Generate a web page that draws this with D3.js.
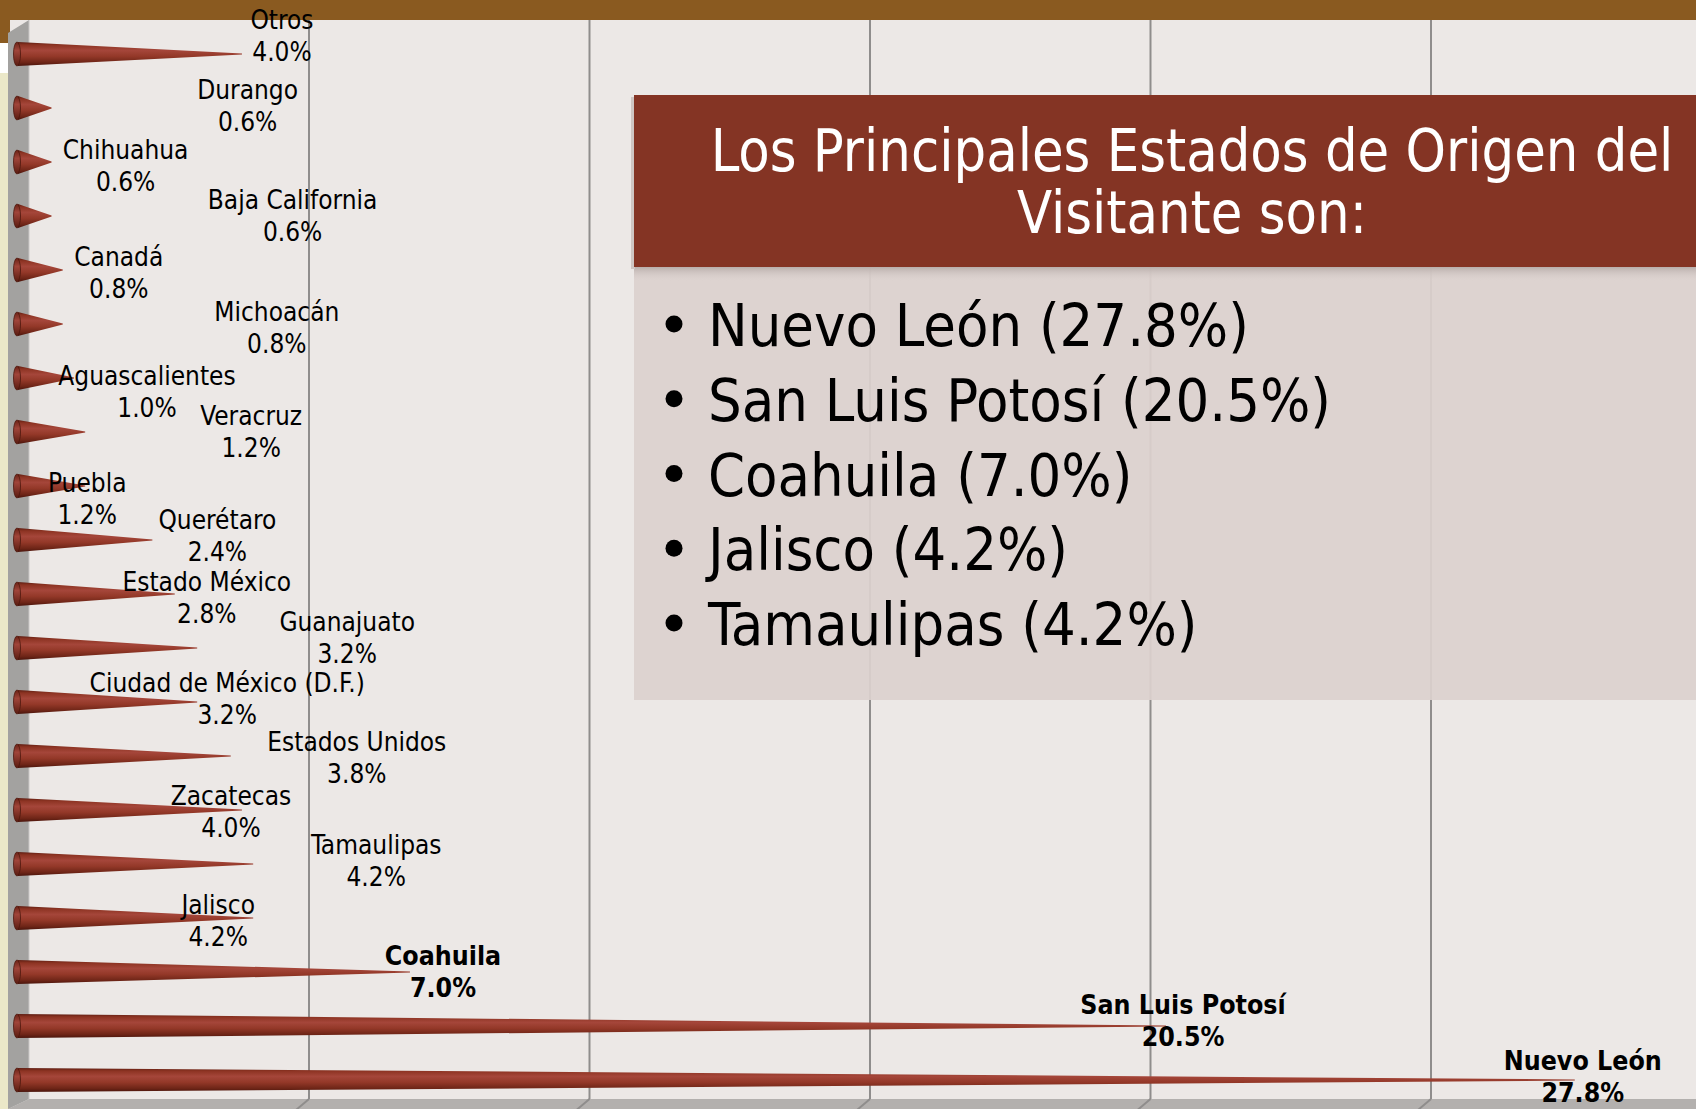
<!DOCTYPE html>
<html>
<head>
<meta charset="utf-8">
<script src="https://cdn.jsdelivr.net/npm/d3@7"></script>
<style>
  html, body { margin: 0; padding: 0; background: #ece8e6; }
  svg { display: block; }
</style>
</head>
<body>
<svg id="chart" width="1696" height="1109"></svg>
<script>
// ---------- data ----------
const categories = ["Otros", "Durango", "Chihuahua", "Baja California", "Canadá", "Michoacán",
  "Aguascalientes", "Veracruz", "Puebla", "Querétaro", "Estado México", "Guanajuato",
  "Ciudad de México (D.F.)", "Estados Unidos", "Zacatecas", "Tamaulipas", "Jalisco",
  "Coahuila", "San Luis Potosí", "Nuevo León"];
const values = [4.0, 0.6, 0.6, 0.6, 0.8, 0.8, 1.0, 1.2, 1.2, 2.4, 2.8, 3.2, 3.2, 3.8, 4.0, 4.2, 4.2, 7.0, 20.5, 27.8];
const highlighted = ["Coahuila", "San Luis Potosí", "Nuevo León"];
const topStates = ["Nuevo León", "San Luis Potosí", "Coahuila", "Jalisco", "Tamaulipas"];
const gridTicks = [0, 5, 10, 15, 20, 25, 30];
const titleLines = ["Los Principales Estados de Origen del", "Visitante son:"];

// ---------- layout (label placement relative to cone tip / row centre) ----------
const labelOffsets = [[40,-18],[196,-2],[74,4],[241,0],[56,3],[214,4],[73,14],[166,0],[2,13],[65,-4],
  [32,4],[150,-10],[30,-3],[126,2],[-11,2],[123,-3],[-35,3],[33,-1],[17,-6],[8,-4]];

const W = 1696, H = 1109;
const floorY = 1099, wallTop = 20, wallX0 = 8, wallX1 = 29;
const svg = d3.select("#chart");
const defs = svg.append("defs");

const xFront = d3.scaleLinear().domain([0, 30]).range([18, 18 + 1680]);
const xBack = d3.scaleLinear().domain([0, 30]).range([28.5, 28.5 + 1683]);
const y = d3.scaleBand().domain(categories).range([27, 27 + 54 * categories.length]).padding(0);
const fmt = d3.format(".1f");

// gradients
const coneGrad = defs.append("linearGradient").attr("id", "cone").attr("x1", 0).attr("y1", 0).attr("x2", 0).attr("y2", 1);
[[0, "#5e1d12"], [0.12, "#8c3322"], [0.35, "#a5463a"], [0.6, "#933828"], [0.85, "#6e2517"], [1, "#4a150c"]]
  .forEach(([o, c]) => coneGrad.append("stop").attr("offset", o).attr("stop-color", c));
const capGrad = defs.append("linearGradient").attr("id", "cap").attr("x1", 0).attr("y1", 0).attr("x2", 0).attr("y2", 1);
[[0, "#6a2216"], [0.35, "#a0453a"], [1, "#5a1c10"]]
  .forEach(([o, c]) => capGrad.append("stop").attr("offset", o).attr("stop-color", c));
const shadowGrad = defs.append("linearGradient").attr("id", "shadow").attr("x1", 0).attr("y1", 0).attr("x2", 0).attr("y2", 1);
shadowGrad.append("stop").attr("offset", 0).attr("stop-color", "#b9aeab");
shadowGrad.append("stop").attr("offset", 1).attr("stop-color", "#dbd1ce").attr("stop-opacity", 0);

// background pieces
svg.append("rect").attr("x", 0).attr("y", 0).attr("width", W).attr("height", H).attr("fill", "#ece8e6");
svg.append("rect").attr("x", 0).attr("y", 73).attr("width", wallX0 + 2).attr("height", H - 73).attr("fill", "#ebe8c8");
svg.append("rect").attr("x", 0).attr("y", 43).attr("width", wallX0 + 2).attr("height", 30).attr("fill", "#ffffff");
svg.append("rect").attr("x", 0).attr("y", 0).attr("width", W).attr("height", wallTop).attr("fill", "#8a5a20");
svg.append("rect").attr("x", 0).attr("y", 0).attr("width", wallX0 + 2).attr("height", 43).attr("fill", "#8a5a20");

// back wall gridlines
const grid = svg.append("g");
grid.selectAll("line").data(gridTicks.filter(t => t > 0)).join("line")
  .attr("x1", d => xBack(d)).attr("x2", d => xBack(d))
  .attr("y1", wallTop).attr("y2", floorY)
  .attr("stroke", "#8f8d8c").attr("stroke-width", 2);

// floor
svg.append("path")
  .attr("d", `M${wallX1},${floorY} L${W},${floorY} L${W},${H} L${wallX0},${H} Z`)
  .attr("fill", "#b3b0ae");
svg.append("g").selectAll("line").data(gridTicks.filter(t => t > 0)).join("line")
  .attr("x1", d => xBack(d)).attr("x2", d => xBack(d) - 13)
  .attr("y1", floorY).attr("y2", H + 1)
  .attr("stroke", "#8f8d8c").attr("stroke-width", 2);

// side wall
svg.append("path")
  .attr("d", `M${wallX0},${wallTop + 13} L${wallX1},${wallTop} L${wallX1},${floorY} L${wallX0},${H} Z`)
  .attr("fill", "#a3a2a0");
svg.append("line").attr("x1", wallX1).attr("x2", wallX1).attr("y1", wallTop).attr("y2", floorY)
  .attr("stroke", "#c9c7c6").attr("stroke-width", 1);

// cones
const cones = svg.append("g");
const rows = categories.map((c, i) => ({ c, v: values[i], i }));
const r = 12;
cones.selectAll("path.cone").data(rows).join("path").attr("class", "cone")
  .attr("d", d => {
    const cy = y(d.c) + y.bandwidth() / 2;
    const x0 = xFront(0), x1 = xFront(d.v);
    return `M${x0},${cy - r} L${x1},${cy - 0.6} L${x1},${cy + 0.6} L${x0},${cy + r} Z`;
  })
  .attr("fill", "url(#cone)");
cones.selectAll("ellipse").data(rows).join("ellipse")
  .attr("cx", xFront(0) - 1).attr("cy", d => y(d.c) + y.bandwidth() / 2)
  .attr("rx", 3.5).attr("ry", r)
  .attr("fill", "url(#cap)").attr("stroke", "#4d170d").attr("stroke-width", 0.8);

// labels
const labels = svg.append("g").attr("font-family", "'DejaVu Sans Condensed', 'DejaVu Sans', sans-serif")
  .attr("text-anchor", "middle").attr("fill", "#000");
rows.forEach(d => {
  const [dx, dy] = labelOffsets[d.i];
  const cx = xFront(d.v) + dx;
  const cy = y(d.c) + y.bandwidth() / 2 + dy;
  const bold = highlighted.includes(d.c);
  const t = labels.append("text").attr("font-weight", bold ? "bold" : "normal")
    .attr("font-size", bold ? 26.5 : 26);
  t.append("tspan").attr("x", cx).attr("y", cy - 16).attr("dy", "0.36em").text(d.c);
  t.append("tspan").attr("x", cx).attr("y", cy + 16).attr("dy", "0.36em").text(fmt(d.v) + "%");
});

// text box
const box = svg.append("g");
box.append("rect").attr("x", 634).attr("y", 267).attr("width", W - 634).attr("height", 433)
  .attr("fill", "#dbd1ce").attr("fill-opacity", 0.93);
box.append("rect").attr("x", 634).attr("y", 267).attr("width", W - 634).attr("height", 14)
  .attr("fill", "url(#shadow)");
box.append("rect").attr("x", 631).attr("y", 97).attr("width", 4).attr("height", 172).attr("fill", "#cfc6c3");
box.append("rect").attr("x", 634).attr("y", 95).attr("width", W - 634).attr("height", 172).attr("fill", "#843424");

// title: one text element, two lines, squeezed horizontally to the reference width
const titleCx = 1192, titleW = 963;
const titleG = box.append("g");
const title = titleG.append("text")
  .attr("font-family", "'DejaVu Sans Condensed', 'DejaVu Sans', sans-serif")
  .attr("fill", "#ffffff").attr("font-size", 58).attr("text-anchor", "middle");
const tl1 = title.append("tspan").attr("x", 0).attr("y", 171).text(titleLines[0]);
title.append("tspan").attr("x", 0).attr("y", 233).text(titleLines[1]);
const natural = tl1.node().getComputedTextLength() || titleW;
const sx = Math.min(1, titleW / natural);
titleG.attr("transform", `translate(${titleCx},0) scale(${sx},1)`);

const bulletY = d3.scalePoint().domain(topStates).range([346, 645]);
const bl = box.append("g").attr("font-family", "'DejaVu Sans Condensed', 'DejaVu Sans', sans-serif")
  .attr("font-size", 59).attr("fill", "#000");
topStates.forEach(s => {
  const v = values[categories.indexOf(s)];
  bl.append("circle").attr("cx", 674).attr("cy", bulletY(s) - 22).attr("r", 8.5).attr("fill", "#000");
  bl.append("text").attr("x", 708).attr("y", bulletY(s)).text(`${s} (${fmt(v)}%)`);
});
</script>
</body>
</html>
